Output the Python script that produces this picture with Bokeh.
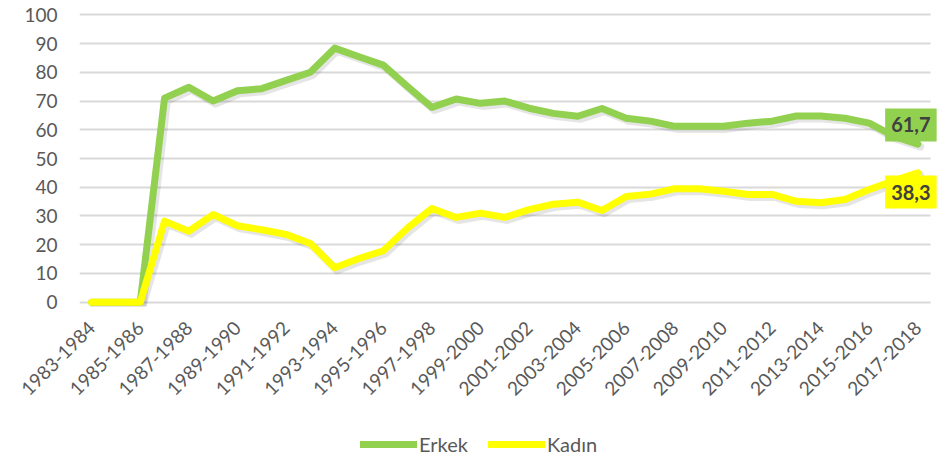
import math
from bokeh.plotting import figure
from bokeh.layouts import column
from bokeh.models import Range1d, Legend, LegendItem, FixedTicker, Label
from bokeh.transform import dodge
from bokeh.embed import file_html
from bokeh.resources import INLINE

years = ["1983-1984", "1984-1985", "1985-1986", "1986-1987", "1987-1988", "1988-1989",
         "1989-1990", "1990-1991", "1991-1992", "1992-1993", "1993-1994", "1994-1995",
         "1995-1996", "1996-1997", "1997-1998", "1998-1999", "1999-2000", "2000-2001",
         "2001-2002", "2002-2003", "2003-2004", "2004-2005", "2005-2006", "2006-2007",
         "2007-2008", "2008-2009", "2009-2010", "2010-2011", "2011-2012", "2012-2013",
         "2013-2014", "2014-2015", "2015-2016", "2016-2017", "2017-2018"]

erkek = [0, 0, 0, 71.0, 74.8, 70.0, 73.6, 74.3, 77.2, 80.0, 88.4, 85.4, 82.5, 75.0,
         67.8, 70.7, 69.2, 70.0, 67.5, 65.7, 64.7, 67.4, 64.0, 63.0, 61.2, 61.2,
         61.2, 62.3, 63.0, 64.8, 64.8, 64.0, 62.3, 57.8, 55.0]
kadin = [0, 0, 0, 28.2, 24.7, 30.5, 26.6, 25.2, 23.6, 20.4, 12.0, 15.2, 17.9, 25.8,
         32.6, 29.5, 31.0, 29.5, 32.2, 34.1, 34.8, 31.9, 36.8, 37.6, 39.5, 39.5,
         38.6, 37.5, 37.5, 35.1, 34.6, 35.7, 39.2, 42.2, 45.0]

label_values = [61.7, 38.3]
label_texts = ["61,7", "38,3"]
series_names = ["Erkek", "Kadın"]
colors = ["#92D050", "#FFFF00"]
y_ticks = list(range(0, 101, 10))

FONT = "Lato"
TXT = "#595959"

xs = list(range(len(years)))
n = len(years)

p = figure(width=952, height=410, x_range=Range1d(-0.5, n - 0.5 + 0.43),
           y_range=Range1d(-1.5, 101.5),
           output_backend="svg", toolbar_location=None,
           min_border_left=79, min_border_right=12, min_border_top=10, min_border_bottom=104)
p.outline_line_color = None
p.xgrid.grid_line_color = None
p.ygrid.grid_line_color = "#d9d9d9"
p.ygrid.grid_line_width = 2
p.ygrid.ticker = FixedTicker(ticks=y_ticks)
p.ygrid.cross_bounds = (-0.5, n - 0.5)

p.yaxis.ticker = FixedTicker(ticks=y_ticks)
p.xaxis.ticker = FixedTicker(ticks=xs[::2])
p.xaxis.major_label_overrides = {i: years[i] for i in xs[::2]}
for ax in (p.xaxis[0], p.yaxis[0]):
    ax.axis_line_color = None
    ax.major_tick_line_color = None
    ax.minor_tick_line_color = None
    ax.major_label_text_font = FONT
    ax.major_label_text_color = TXT
p.yaxis.major_label_text_font_size = "19px"
p.yaxis.major_label_standoff = 16
p.xaxis.major_label_text_font_size = "19px"
p.xaxis.major_label_orientation = math.pi / 4
p.xaxis.major_label_standoff = 12

src_e = dict(x=xs, y=erkek)
src_k = dict(x=xs, y=kadin)
for src in (src_e, src_k):
    p.line(x=dodge("x", 0.1), y=dodge("y", -0.9), source=src, line_color="#000000",
           line_alpha=0.10, line_width=8, line_join="round", line_cap="round")
r1 = p.line(x="x", y="y", source=src_e, line_color=colors[0], line_width=7,
            line_join="round", line_cap="round")
r2 = p.line(x="x", y="y", source=src_k, line_color=colors[1], line_width=7,
            line_join="round", line_cap="round")

for val, txt, col in zip(label_values, label_texts, colors):
    p.add_layout(Label(x=xs[-1], y=val, text=txt, x_offset=-7,
                       text_align="center", text_baseline="middle",
                       text_font=FONT, text_font_style="bold", text_font_size="20px",
                       text_color="#404040", background_fill_color=col,
                       border_line_color=None, padding=(6, 9)))

# legend strip below the chart (its frame is aligned with the main frame by the column)
lg = figure(width=952, height=51, x_range=Range1d(1000, 1001), y_range=Range1d(1000, 1001),
            output_backend="svg", toolbar_location=None, x_axis_type=None, y_axis_type=None,
            min_border=0)
lg.outline_line_color = None
lg.xgrid.visible = False
lg.ygrid.visible = False
l1 = lg.line(xs, erkek, line_color=colors[0], line_width=7, line_cap="round")
l2 = lg.line(xs, kadin, line_color=colors[1], line_width=7, line_cap="round")
legend = Legend(items=[LegendItem(label=series_names[0], renderers=[l1]),
                       LegendItem(label=series_names[1], renderers=[l2])],
                orientation="horizontal", location=(281, 5),
                border_line_color=None, background_fill_alpha=0, padding=0, margin=0,
                glyph_width=57, glyph_height=20, label_standoff=2, spacing=20,
                label_text_font=FONT, label_text_font_size="20px", label_text_color=TXT)
lg.add_layout(legend)

layout = column(p, lg, spacing=0)
open("out.html", "w").write(file_html(layout, INLINE))
